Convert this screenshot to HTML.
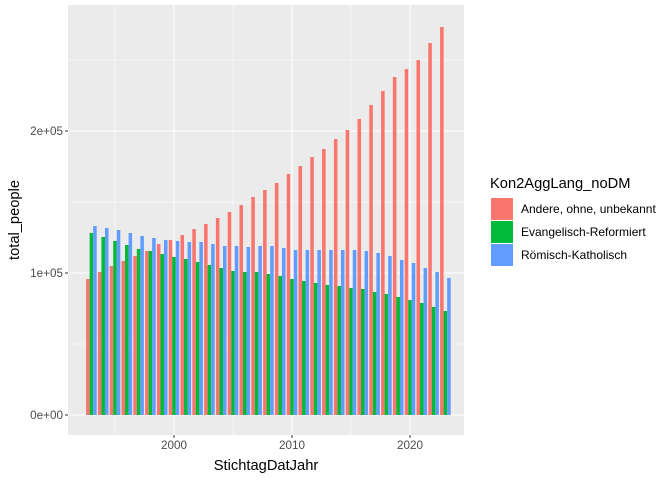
<!DOCTYPE html>
<html><head><meta charset="utf-8"><style>
body{margin:0;background:#fff}
svg text{font-family:"Liberation Sans",sans-serif}
</style></head><body>
<svg id="s" width="672" height="480" xmlns="http://www.w3.org/2000/svg">
<rect x="0" y="0" width="672" height="480" fill="#fff"/>
<rect x="68" y="5" width="396" height="430" fill="#EBEBEB"/>
<g stroke="#fff" stroke-width="0.5">
<line x1="68" x2="464" y1="344" y2="344"/><line x1="68" x2="464" y1="202" y2="202"/><line x1="68" x2="464" y1="60" y2="60"/>
<line x1="115" x2="115" y1="5" y2="435"/><line x1="233" x2="233" y1="5" y2="435"/><line x1="351" x2="351" y1="5" y2="435"/>
</g>
<g stroke="#fff" stroke-width="1.1">
<line x1="68" x2="464" y1="415" y2="415"/><line x1="68" x2="464" y1="273" y2="273"/><line x1="68" x2="464" y1="131" y2="131"/>
<line x1="174" x2="174" y1="5" y2="435"/><line x1="292" x2="292" y1="5" y2="435"/><line x1="410" x2="410" y1="5" y2="435"/>
</g>
<g id="bars"></g>
<g font-size="11.7" fill="#4D4D4D" text-anchor="end">
<text x="63" y="419">0e+00</text><text x="63" y="277">1e+05</text><text x="63" y="135">2e+05</text>
</g>
<g stroke="#333" stroke-width="1"><line x1="65" x2="68" y1="415" y2="415"/><line x1="65" x2="68" y1="273" y2="273"/><line x1="65" x2="68" y1="131" y2="131"/>
<line x1="174" x2="174" y1="435" y2="438"/><line x1="292" x2="292" y1="435" y2="438"/><line x1="410" x2="410" y1="435" y2="438"/></g>
<g font-size="11.7" fill="#4D4D4D" text-anchor="middle">
<text x="174" y="449">2000</text><text x="292" y="449">2010</text><text x="410" y="449">2020</text>
</g>
<text x="266" y="470" font-size="14.7" text-anchor="middle">StichtagDatJahr</text>
<text transform="translate(19,220) rotate(-90)" font-size="14.7" text-anchor="middle">total_people</text>
<text x="490" y="188" font-size="14.7">Kon2AggLang_noDM</text>
<rect x="491" y="198" width="22" height="22" fill="#F8766D"/>
<rect x="491" y="221" width="22" height="22" fill="#00BA38"/>
<rect x="491" y="244" width="22" height="22" fill="#619CFF"/>
<g font-size="12"><text x="521" y="213">Andere, ohne, unbekannt</text><text x="521" y="236">Evangelisch-Reformiert</text><text x="521" y="259">Römisch-Katholisch</text></g>
</svg>
<script>
var red=[279,272,266,261,256,251,244,240,235,229,224,218,212,205,197,190,183,174,166,157,149,139,130,119,105,91,77,69,60,43,27];
var grn=[233,237,241,245,249,251,254,257,259,262,265,268,271,272,272,274,276,279,281,283,285,286,288,289,292,294,297,300,303,307,311];
var blu=[226,228,230,233,236,238,240,241,242,242,244,246,246,247,246,246,248,250,250,250,250,250,250,251,253,256,260,263,268,272,278];
var g=document.getElementById('bars'),w=3.54,h='';
for(var i=0;i<31;i++){var c=174+(1993+i-2000)*11.8;
[[red,'#F8766D',-1],[grn,'#00BA38',0],[blu,'#619CFF',1]].forEach(function(a){
var x=c+a[2]*w-w/2,y=a[0][i];h+='<rect x="'+x+'" y="'+y+'" width="'+w+'" height="'+(415-y)+'" fill="'+a[1]+'"/>';});}
g.innerHTML=h;
</script>
</body></html>
